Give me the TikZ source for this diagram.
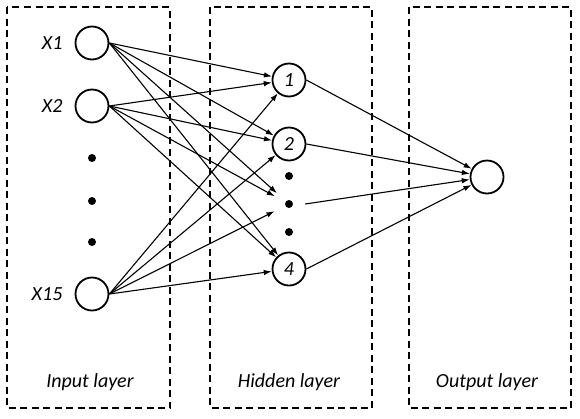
\documentclass[tikz,border=0pt]{standalone}
\usepackage{fontspec}
\setmainfont{Carlito}
\usetikzlibrary{positioning,arrows.meta}

\begin{document}
\begin{tikzpicture}[x=1pt,y=-1pt,
          layerbox/.style={draw,line width=1.7pt,dash pattern=on 7pt off 4.5pt},
          neuron/.style={draw,circle,line width=1.8pt,minimum size=33pt,
            inner sep=0pt,font=\fontsize{20}{24}\selectfont\itshape},
          ghost/.style={circle,minimum size=32pt,inner sep=0pt},
          bigdot/.style={fill,circle,inner sep=0pt,minimum size=8pt},
          lbl/.style={font=\fontsize{20}{24}\selectfont\itshape,inner sep=2pt},
          conn/.style={-{Latex[length=8pt,width=5.5pt]},line width=1.1pt}]

        \useasboundingbox (0,0) rectangle (580,418);

        % layer frames
        \draw[layerbox] (7,7) rectangle (170,408);
        \draw[layerbox] (210,7) rectangle (372,408);
        \draw[layerbox] (409,7) rectangle (571,408);

        % input layer
        \node[neuron] (x1) at (92,43) {};
        \node[lbl,left=10pt of x1] (lx1) {X1};
        \node[neuron] (x2) at (92,106) {};
        \node[lbl,left=10pt of x2] (lx2) {X2};
        \node[bigdot] (xd1) at (92,158) {};
        \node[bigdot] (xd2) at (92,201) {};
        \node[bigdot] (xd3) at (92,242) {};
        \node[neuron] (x15) at (92,294) {};
        \node[lbl,left=10pt of x15] (lx15) {X15};

        % hidden layer
        \node[neuron] (h1) at (289,80) {1};
        \node[neuron] (h2) at (289,144) {2};
        \node[bigdot] (hd1) at (289,176) {};
        \node[bigdot] (hd2) at (289,204) {};
        \node[bigdot] (hd3) at (289,232) {};
        \node[ghost] (hd) at (289,204) {};
        \node[neuron] (h4) at (289,269) {4};

        % output layer
        \node[neuron] (out) at (487,177) {};

        % layer names
        \node[lbl] (inlbl) at (90,382) {Input layer};
        \node[lbl] (hidlbl) at (289,382) {Hidden layer};
        \node[lbl] (outlbl) at (487,382) {Output layer};

        % connections
        \foreach \s in {x1,x2,x15}
          \foreach \t in {h1,h2,hd,h4}
            \draw[conn] (\s.east) -- (\t);
        \foreach \s in {h1,h2,hd,h4}
          \draw[conn] (\s.east) -- (out);
      \end{tikzpicture}
\end{document}
